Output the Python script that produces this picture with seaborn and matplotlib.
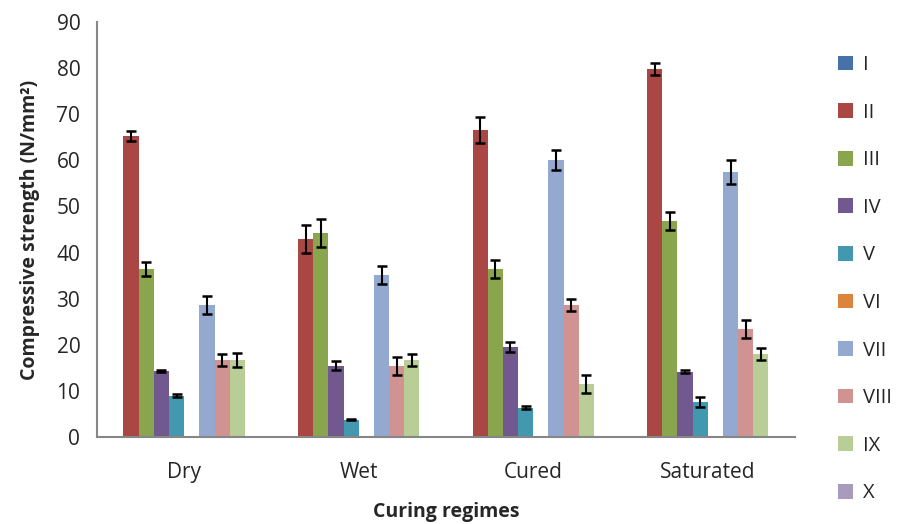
import matplotlib
matplotlib.use("Agg")
import matplotlib.pyplot as plt
import seaborn as sns
import pandas as pd
import numpy as np
from matplotlib.ticker import FixedLocator
from matplotlib.patches import Patch

categories = ["Dry", "Wet", "Cured", "Saturated"]
series = ["I", "II", "III", "IV", "V", "VI", "VII", "VIII", "IX", "X"]

# values per series (Dry, Wet, Cured, Saturated)
val_I = [0, 0, 0, 0]
val_II = [65.3, 42.9, 66.6, 79.8]
val_III = [36.4, 44.3, 36.4, 46.9]
val_IV = [14.3, 15.5, 19.5, 14.2]
val_V = [9.0, 3.7, 6.4, 7.6]
val_VI = [0, 0, 0, 0]
val_VII = [28.6, 35.1, 60.1, 57.4]
val_VIII = [16.8, 15.4, 28.6, 23.4]
val_IX = [16.7, 16.7, 11.5, 18.1]
val_X = [0, 0, 0, 0]

err_I = [0, 0, 0, 0]
err_II = [1.1, 3.0, 2.9, 1.3]
err_III = [1.5, 3.0, 2.0, 2.0]
err_IV = [0.3, 1.0, 1.0, 0.3]
err_V = [0.3, 0.1, 0.3, 1.0]
err_VI = [0, 0, 0, 0]
err_VII = [2.0, 2.0, 2.1, 2.6]
err_VIII = [1.3, 1.9, 1.3, 2.0]
err_IX = [1.6, 1.3, 2.0, 1.3]
err_X = [0, 0, 0, 0]

colors = ["#4672AA", "#AA4744", "#89A54E", "#71588F", "#4198AF",
          "#DB843D", "#93A9CF", "#D19392", "#B9CD96", "#A99BBD"]

vals = [val_I, val_II, val_III, val_IV, val_V, val_VI, val_VII, val_VIII, val_IX, val_X]
errs = [err_I, err_II, err_III, err_IV, err_V, err_VI, err_VII, err_VIII, err_IX, err_X]

rows = []
for s, v in zip(series, vals):
    for c, y in zip(categories, v):
        rows.append({"regime": c, "series": s, "value": y})
df = pd.DataFrame(rows)

sns.set_style("white")
plt.rcParams["font.family"] = ["Open Sans", "DejaVu Sans"]

fig = plt.figure(figsize=(8.97, 5.24), dpi=100)
ax = fig.add_axes([0.1081, 0.166, 0.7782, 0.792])

sns.barplot(data=df, x="regime", y="value", hue="series", order=categories,
            hue_order=series, palette=colors, saturation=1, width=0.87,
            errorbar=None, linewidth=0, ax=ax, legend=False)

for cont, e in zip(ax.containers, errs):
    xs = [p.get_x() + p.get_width() / 2 for p in cont.patches]
    hs = [p.get_height() for p in cont.patches]
    for x, h, er in zip(xs, hs, e):
        if h > 0:
            ax.errorbar(x, h, yerr=er, fmt="none", ecolor="black",
                        elinewidth=1.5, capsize=3.6, capthick=1.8)

ax.set_xlim(-0.5, 3.5)
ax.set_ylim(0, 90)
ax.set_yticks(np.arange(0, 91, 10))
ax.tick_params(axis="y", labelsize=15, length=6, color="#868686", width=1.2, pad=6)
ax.tick_params(axis="x", which="major", labelsize=15, length=0, pad=18)
ax.xaxis.set_minor_locator(FixedLocator([-0.5, 0.5, 1.5, 2.5, 3.5]))
ax.tick_params(axis="x", which="minor", length=7, color="#868686", width=1.2)
for sp in ["top", "right"]:
    ax.spines[sp].set_visible(False)
for sp in ["left", "bottom"]:
    ax.spines[sp].set_color("#868686")
    ax.spines[sp].set_linewidth(1.5)

ax.set_ylabel("Compressive strength (N/mm²)", fontsize=14, fontweight="bold", labelpad=12)
ax.set_xlabel("Curing regimes", fontsize=14, fontweight="bold", labelpad=14)

handles = [Patch(facecolor=c, edgecolor="none") for c in colors]
leg = fig.legend(handles, series, loc="upper left", bbox_to_anchor=(0.918, 0.922),
                 frameon=False, fontsize=14.5, handlelength=0.75, handleheight=0.75,
                 handletextpad=0.5, labelspacing=1.37, borderpad=0.2)

fig.savefig("out.png", dpi=100)
